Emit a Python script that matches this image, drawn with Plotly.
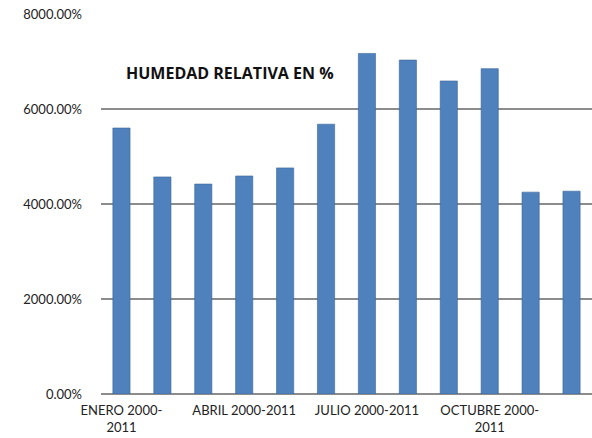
import plotly.graph_objects as go

# Monthly relative humidity averages, 2000-2011
meses = ["ENERO", "FEBRERO", "MARZO", "ABRIL", "MAYO", "JUNIO",
         "JULIO", "AGOSTO", "SEPTIEMBRE", "OCTUBRE", "NOVIEMBRE", "DICIEMBRE"]
humedad = [56.0, 45.7, 44.2, 45.9, 47.6, 56.8, 71.7, 70.3, 65.9, 68.5, 42.5, 42.7]

# Only every third month is labelled on the category axis
etiquetas_idx = [0, 3, 6, 9]
etiquetas_txt = ["ENERO 2000-<br>2011", "ABRIL 2000-2011", "JULIO 2000-2011", "OCTUBRE 2000-<br>2011"]

y_ticks = [0, 20, 40, 60, 80]

fig = go.Figure()
fig.add_trace(go.Bar(
    x=list(range(len(meses))),
    y=[v * 100 for v in humedad],
    marker=dict(color="#4f81bd", line=dict(color="#3a6597", width=0.6)),
    hovertext=meses,
))

fig.update_layout(
    width=592, height=438,
    margin=dict(l=101, r=0, t=14, b=44),
    paper_bgcolor="white", plot_bgcolor="white",
    font=dict(family="Lato, 'Open Sans', sans-serif", size=13, color="#222"),
    bargap=0.58,
    showlegend=False,
    annotations=[dict(
        text="<b>HUMEDAD RELATIVA EN %</b>",
        xref="paper", yref="paper", x=0.262, y=0.845,
        xanchor="center", yanchor="middle",
        showarrow=False,
        font=dict(family="'Open Sans', sans-serif", size=16, color="#111"),
    )],
)
fig.update_xaxes(
    range=[-0.5, 11.5],
    tickmode="array", tickvals=etiquetas_idx, ticktext=etiquetas_txt,
    showgrid=False, showline=False, ticks="", tickfont=dict(size=13),
    ticklabelstandoff=7,
)
fig.update_yaxes(
    range=[0, 8000],
    tickmode="array", tickvals=[v * 100 for v in y_ticks],
    ticktext=[f"{v * 100:.2f}%" for v in y_ticks],
    showgrid=True, gridcolor="#8c8c8c", gridwidth=1.5,
    zeroline=True, zerolinecolor="#8c8c8c", zerolinewidth=1.5,
    showline=False, ticks="", ticklen=0, tickfont=dict(size=13),
    ticklabelstandoff=18,
)

fig.write_html("out.html")
